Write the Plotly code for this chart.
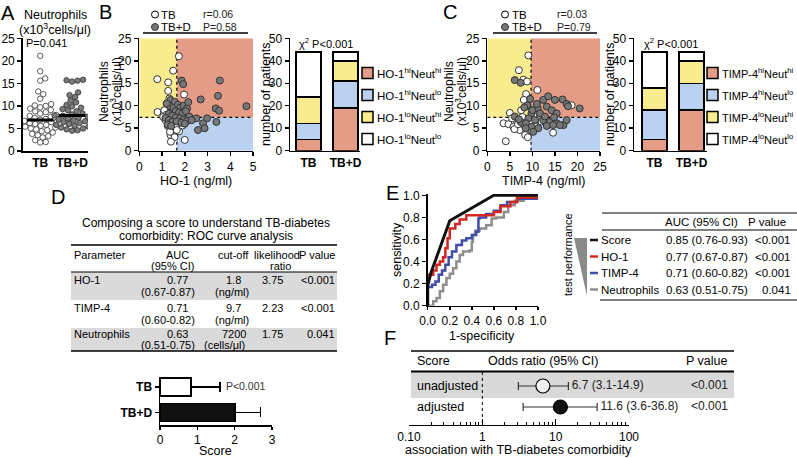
import numpy as np
import plotly.graph_objects as go

W, H = 797, 458
FONT = "Liberation Sans, Arial, Helvetica, sans-serif"

# ------------------------------------------------------------------ data
GROUPS = ["TB", "TB+D"]

# Panel A: neutrophils (x10^3 cells/ul)
A_NEUT_TB = [21.1, 17.7, 16.1, 15.6, 13.2, 12.6, 11.6, 10.4, 10.1, 10.0, 9.7, 9.4, 9.1, 8.8,
             8.6, 8.3, 8.0, 7.8, 7.6, 7.3, 7.1, 6.9, 6.7, 6.5, 6.4, 6.2, 6.0, 5.8, 5.6, 5.4,
             5.2, 5.0, 4.8, 4.6, 4.4, 4.1, 3.8, 3.5, 3.3, 3.0, 2.4, 2.0, 1.9]
A_NEUT_TBD = [15.8, 15.7, 15.6, 15.4, 13.0, 12.4, 12.0, 11.2, 10.8, 10.2, 9.9, 9.6, 9.3, 9.0,
              8.8, 8.5, 8.3, 8.1, 7.9, 7.8, 7.6, 7.4, 7.2, 7.0, 6.8, 6.6, 6.4, 6.2, 6.0, 5.8,
              5.6, 5.4, 5.2, 5.0, 4.8, 4.6, 4.5]
A_PVAL = "P=0.041"

# Panel B: HO-1 (ng/ml) vs neutrophils
B_TB_HO1 = [1.74, 1.49, 0.79, 1.27, 1.27, 1.97, 1.32, 0.80, 1.35, 1.10, 1.20, 1.45, 1.30, 1.55,
            1.70, 1.25, 1.40, 1.60, 1.50, 1.75, 1.37, 1.55, 1.39, 2.00, 1.80, 1.15, 1.50, 1.62,
            1.05, 1.90, 1.45, 1.25, 1.65, 1.35, 1.85]
B_TB_NEUT = [21.0, 17.8, 15.9, 15.2, 13.3, 12.5, 11.6, 8.6, 10.5, 9.0, 8.0, 7.0, 6.5, 6.0,
             6.2, 5.5, 5.0, 5.3, 4.5, 4.3, 3.5, 3.0, 2.0, 2.4, 7.2, 6.8, 8.5, 9.5,
             7.5, 5.6, 9.2, 7.2, 4.6, 4.2, 8.8]
B_TBD_HO1 = [1.86, 1.93, 3.54, 3.46, 2.70, 1.37, 1.56, 4.71, 3.36, 3.51, 1.35, 1.50, 1.70, 1.80,
             1.95, 2.10, 1.60, 1.75, 1.90, 2.05, 2.20, 1.30, 1.45, 1.60, 1.80, 1.95, 2.10, 1.15,
             1.30, 1.45, 1.65, 1.85, 2.00, 1.25, 1.40, 2.98, 2.51, 2.80, 2.87, 2.58, 3.39, 2.30,
             1.20, 2.15]
B_TBD_NEUT = [15.6, 14.8, 15.6, 12.2, 11.4, 11.3, 10.9, 9.9, 9.4, 8.9, 9.9, 9.5, 10.2, 9.6,
              10.0, 9.4, 8.8, 8.5, 8.3, 8.8, 7.6, 8.2, 7.8, 7.4, 7.2, 6.9, 6.6, 7.3,
              6.8, 6.4, 6.5, 6.2, 6.0, 5.8, 5.5, 7.2, 7.2, 6.1, 5.0, 4.6, 6.4, 6.8,
              10.5, 10.8]
B_STATS = ["r=0.06", "P=0.58"]
HO1_CUT = 1.65
NEUT_CUT = 7.4

# Panel C: TIMP-4 (ng/ml) vs neutrophils
C_TB_TIMP = [9.1, 7.0, 8.0, 8.8, 11.1, 8.6, 8.1, 8.9, 5.0, 3.6, 4.7, 5.8, 4.1, 8.4, 7.2, 14.6,
             18.7, 6.5, 7.8, 9.5, 10.5, 6.0, 8.2, 9.0, 5.5, 7.5, 10.2, 12.0, 6.8, 9.8]
C_TB_NEUT = [21.2, 17.9, 15.8, 15.4, 13.5, 12.6, 11.3, 9.9, 8.4, 6.1, 5.9, 5.3, 2.1, 3.5, 4.6, 4.0,
             10.1, 6.8, 7.5, 6.3, 5.5, 4.8, 5.8, 3.0, 7.2, 9.0, 7.8, 6.5, 5.9, 4.5]
C_TBD_TIMP = [6.1, 7.4, 8.9, 8.2, 12.4, 13.5, 15.0, 16.7, 17.6, 11.2, 11.7, 13.2, 14.3, 15.4,
              9.8, 9.1, 10.6, 12.4, 13.9, 15.4, 16.9, 6.1, 7.4, 8.6, 9.8, 11.3, 13.2, 14.6,
              8.5, 10.2, 17.9, 20.5, 17.6, 16.1, 11.0, 12.8, 14.8, 10.0, 7.0, 9.5]
C_TBD_NEUT = [15.7, 15.1, 10.1, 9.6, 11.3, 12.1, 11.3, 11.4, 10.4, 9.4, 8.3, 9.8, 9.0, 8.3,
              8.3, 7.2, 6.8, 6.8, 6.4, 6.1, 5.7, 7.6, 6.4, 6.1, 5.3, 5.0, 5.5, 5.7,
              5.0, 4.2, 9.9, 9.4, 6.8, 5.7, 10.4, 7.6, 7.4, 9.0, 7.0, 11.5]
C_STATS = ["r=0.03", "P=0.79"]
TIMP_CUT = 9.7

# Stacked bars: number of patients per quadrant
QUAD_HO1 = ["HO-1<sup>hi</sup>Neut<sup>hi</sup>", "HO-1<sup>hi</sup>Neut<sup>lo</sup>",
            "HO-1<sup>lo</sup>Neut<sup>hi</sup>", "HO-1<sup>lo</sup>Neut<sup>lo</sup>"]
QUAD_TIMP = ["TIMP-4<sup>hi</sup>Neut<sup>hi</sup>", "TIMP-4<sup>hi</sup>Neut<sup>lo</sup>",
             "TIMP-4<sup>lo</sup>Neut<sup>hi</sup>", "TIMP-4<sup>lo</sup>Neut<sup>lo</sup>"]
HO1_COUNTS_TB = [5, 7, 12, 20]
HO1_COUNTS_TBD = [19, 12, 9, 4]
TIMP_COUNTS_TB = [5, 13, 10, 16]
TIMP_COUNTS_TBD = [18, 12, 10, 4]
CHI2_TEXT = "χ<sup>2</sup> P&lt;0.001"

# Panel D: ROC table + score
D_TITLE = ["Composing a score to understand TB-diabetes", "comorbidity: ROC curve analysis"]
D_PARAMS = ["HO-1", "TIMP-4", "Neutrophils"]
D_AUC = [0.77, 0.71, 0.63]
D_AUC_LO = [0.67, 0.60, 0.51]
D_AUC_HI = [0.87, 0.82, 0.75]
D_CUTOFF = ["1.8", "9.7", "7200"]
D_CUTOFF_UNIT = ["(ng/ml)", "(ng/ml)", "(cells/μl)"]
D_LR = [3.75, 2.23, 1.75]
D_P = ["<0.001", "<0.001", "0.041"]
SCORE_MEAN = [0.83, 2.01]
SCORE_ERR = [0.78, 0.68]
SCORE_P = "P<0.001"

# Panel E: ROC curves
ROC_SCORE_FPR = [0, 0, 0.03, 0.20, 0.60, 1.0]
ROC_SCORE_TPR = [0, 0.18, 0.30, 0.77, 1.0, 1.0]
ROC_HO1_FPR = [0, 0, 0.05, 0.08, 0.11, 0.14, 0.16, 0.18, 0.20, 0.25, 0.29, 0.35, 0.46, 0.56,
               0.60, 0.66, 0.75, 0.81, 1.0]
ROC_HO1_TPR = [0, 0.28, 0.32, 0.37, 0.40, 0.44, 0.52, 0.61, 0.70, 0.74, 0.78, 0.82, 0.82, 0.82,
               0.85, 0.90, 0.94, 0.98, 0.98]
ROC_TIMP_FPR = [0, 0, 0.04, 0.07, 0.10, 0.13, 0.16, 0.19, 0.22, 0.26, 0.31, 0.35, 0.40, 0.44,
                0.46, 0.47, 0.53, 0.60, 0.66, 0.72, 0.81, 1.0]
ROC_TIMP_TPR = [0, 0.17, 0.19, 0.22, 0.28, 0.32, 0.37, 0.44, 0.49, 0.55, 0.59, 0.61, 0.64, 0.67,
                0.79, 0.80, 0.83, 0.86, 0.91, 0.94, 0.97, 0.97]
ROC_NEUT_FPR = [0, 0.02, 0.05, 0.08, 0.11, 0.14, 0.17, 0.20, 0.23, 0.26, 0.29, 0.32, 0.38, 0.40,
                0.41, 0.43, 0.47, 0.53, 0.58, 0.62, 0.69, 0.73, 0.79, 0.87, 1.0]
ROC_NEUT_TPR = [0, 0, 0.04, 0.07, 0.13, 0.19, 0.25, 0.29, 0.34, 0.40, 0.46, 0.49, 0.50, 0.58,
                0.64, 0.68, 0.70, 0.73, 0.79, 0.80, 0.85, 0.91, 0.95, 0.97, 0.97]
E_NAMES = ["Score", "HO-1", "TIMP-4", "Neutrophils"]
E_AUC = [0.85, 0.77, 0.71, 0.63]
E_LO = [0.76, 0.67, 0.60, 0.51]
E_HI = [0.93, 0.87, 0.82, 0.75]
E_P = ["<0.001", "<0.001", "<0.001", "0.041"]
E_COLORS = ["#111111", "#D3271F", "#3F4DA6", "#8E8E8E"]

# Panel F: odds ratios
F_NAMES = ["unadjusted", "adjusted"]
F_OR = [6.7, 11.6]
F_LO = [3.1, 3.6]
F_HI = [14.9, 36.8]
F_P = ["<0.001", "<0.001"]

QUAD_COLORS = ["#E49C86", "#BAD1EF", "#F9EC8E", "#FFFFFF"]


# ------------------------------------------------------------------ helpers
def esc(s):
    return s.replace("<", "&lt;")


def X(px):
    return px / W


def Y(py):
    return 1 - py / H


annotations = []
shapes = []


def text(s, x, y, size=12, xa="center", ya="middle", angle=0, color="black"):
    annotations.append(dict(text=s, x=X(x), y=Y(y), xref="paper", yref="paper",
                            showarrow=False, xanchor=xa, yanchor=ya, textangle=angle, borderpad=0,
                            font=dict(family=FONT, size=size, color=color)))


def hline(y, x0, x1, w=1.0, color="black", dash=None):
    shapes.append(dict(type="line", xref="paper", yref="paper", x0=X(x0), x1=X(x1),
                       y0=Y(y), y1=Y(y), line=dict(color=color, width=w, dash=dash)))


def rect(x0, y0, x1, y1, fill, lc=None, lw=0):
    shapes.append(dict(type="rect", xref="paper", yref="paper", x0=X(x0), x1=X(x1),
                       y0=Y(y1), y1=Y(y0), fillcolor=fill,
                       line=dict(color=lc or fill, width=lw), layer="below" if lw == 0 else "above"))


def circ(cx, cy, r, fill, lc="black", lw=1):
    shapes.append(dict(type="circle", xref="paper", yref="paper", x0=X(cx - r), x1=X(cx + r),
                       y0=Y(cy + r), y1=Y(cy - r), fillcolor=fill, line=dict(color=lc, width=lw)))


def swarm_offsets(vals, ppu_y, ppu_x, diam):
    vals = np.asarray(vals, float)
    order = np.argsort(vals)
    placed = []
    off = np.zeros(len(vals))
    cands = [0.0]
    for k in range(1, 80):
        cands += [k * 0.5, -k * 0.5]
    for i in order:
        yy = vals[i] * ppu_y
        chosen = 0.0
        for c in cands:
            if all((c - a) ** 2 + (yy - b) ** 2 >= diam ** 2 for a, b in placed):
                chosen = c
                break
        placed.append((chosen, yy))
        off[i] = chosen / ppu_x
    return off


AX = dict(showline=True, linecolor="black", linewidth=1.5, ticks="outside", ticklen=4,
          tickwidth=1.5, tickcolor="black", showgrid=False, zeroline=False, fixedrange=True,
          automargin=False, tickfont=dict(family=FONT, size=12, color="black"))

fig = go.Figure()
BOLD = ["<b>%s</b>" % g for g in GROUPS]

# ------------------------------------------------------------------ Panel A
a_ppu_y = (151 - 38.3) / 25
a_ppu_x = (88 - 22.7) / 2.05
for gi, (vals, fill) in enumerate([(A_NEUT_TB, "white"), (A_NEUT_TBD, "#7B7B7B")]):
    off = swarm_offsets(vals, a_ppu_y, a_ppu_x, 5.4)
    fig.add_trace(go.Scatter(x=gi + off, y=vals, mode="markers", xaxis="x", yaxis="y",
                             marker=dict(size=5.5, color=fill, line=dict(color="#333", width=0.8)),
                             showlegend=False, hoverinfo="skip"))
    med = float(np.median(vals))
    fig.add_trace(go.Scatter(x=[gi - 0.42, gi + 0.42], y=[med, med], mode="lines", xaxis="x",
                             yaxis="y", line=dict(color="black", width=3), showlegend=False))

# ------------------------------------------------------------------ Panels B & C scatter
for xa, ya, tbx, tby, tdx, tdy in [("x2", "y2", B_TB_HO1, B_TB_NEUT, B_TBD_HO1, B_TBD_NEUT),
                                   ("x4", "y4", C_TB_TIMP, C_TB_NEUT, C_TBD_TIMP, C_TBD_NEUT)]:
    fig.add_trace(go.Scatter(x=tbx, y=tby, mode="markers", xaxis=xa, yaxis=ya, showlegend=False,
                             marker=dict(size=7, color="white", line=dict(color="#333", width=1))))
    fig.add_trace(go.Scatter(x=tdx, y=tdy, mode="markers", xaxis=xa, yaxis=ya, showlegend=False,
                             marker=dict(size=7, color="#777777", line=dict(color="#333", width=1))))

for xa, ya, cut, xmax in [("x2", "y2", HO1_CUT, 5), ("x4", "y4", TIMP_CUT, 25)]:
    for (x0, x1, y0, y1, col) in [(0, cut, NEUT_CUT, 25, QUAD_COLORS[2]),
                                  (cut, xmax, NEUT_CUT, 25, QUAD_COLORS[0]),
                                  (cut, xmax, 0, NEUT_CUT, QUAD_COLORS[1])]:
        shapes.append(dict(type="rect", xref=xa, yref=ya, x0=x0, x1=x1, y0=y0, y1=y1,
                           fillcolor=col, line=dict(width=0), layer="below"))
    shapes.append(dict(type="line", xref=xa, yref=ya, x0=cut, x1=cut, y0=0, y1=25,
                       line=dict(color="black", width=1.2, dash="dot"), layer="below"))
    shapes.append(dict(type="line", xref=xa, yref=ya, x0=0, x1=xmax, y0=NEUT_CUT, y1=NEUT_CUT,
                       line=dict(color="black", width=1.2, dash="dot"), layer="below"))

# ------------------------------------------------------------------ stacked bars
for xa, ya, tb, tbd in [("x3", "y3", HO1_COUNTS_TB, HO1_COUNTS_TBD),
                        ("x5", "y5", TIMP_COUNTS_TB, TIMP_COUNTS_TBD)]:
    for k in range(4):
        fig.add_trace(go.Bar(x=[0, 1], y=[tb[k], tbd[k]], xaxis=xa, yaxis=ya, width=0.68,
                             marker=dict(color=QUAD_COLORS[k], line=dict(color="black", width=1.5)),
                             showlegend=False))

# ------------------------------------------------------------------ Panel D score bars
fig.add_trace(go.Bar(x=SCORE_MEAN, y=[1, 0], orientation="h", xaxis="x6", yaxis="y6", width=0.72,
                     marker=dict(color=["white", "#111111"], line=dict(color="black", width=1.5)),
                     error_x=dict(type="data", array=SCORE_ERR, arrayminus=[0, 0], symmetric=False,
                                  color="black", thickness=1.5, width=5),
                     showlegend=False))
fig.add_trace(go.Scatter(x=[SCORE_MEAN[0] + SCORE_ERR[0]], y=[1], mode="text", xaxis="x6", yaxis="y6",
                         text=["  " + esc(SCORE_P)], textposition="middle right", cliponaxis=False,
                         textfont=dict(family=FONT, size=10.5, color="#333"), showlegend=False))

# ------------------------------------------------------------------ Panel E ROC
for fx, ty, col, wd, shp in [(ROC_NEUT_FPR, ROC_NEUT_TPR, E_COLORS[3], 2.5, "hv"),
                             (ROC_TIMP_FPR, ROC_TIMP_TPR, E_COLORS[2], 2.5, "hv"),
                             (ROC_HO1_FPR, ROC_HO1_TPR, E_COLORS[1], 2.5, "hv"),
                             (ROC_SCORE_FPR, ROC_SCORE_TPR, E_COLORS[0], 3, "linear")]:
    fig.add_trace(go.Scatter(x=fx, y=ty, mode="lines", xaxis="x7", yaxis="y7",
                             line=dict(color=col, width=wd, shape=shp), showlegend=False))

# ------------------------------------------------------------------ Panel F forest
F_Y = [1, 0]
fig.add_trace(go.Scatter(x=[1, 1], y=[-0.76, 1.667], mode="lines", xaxis="x8", yaxis="y8",
                         line=dict(color="black", width=1, dash="dot"), showlegend=False))
fig.add_trace(go.Scatter(x=F_OR, y=F_Y, mode="markers", xaxis="x8", yaxis="y8", showlegend=False,
                         marker=dict(size=14, color=["#EFEFEF", "#111111"], line=dict(color="black", width=1.2)),
                         error_x=dict(type="data", symmetric=False,
                                      array=[h - o for h, o in zip(F_HI, F_OR)],
                                      arrayminus=[o - l for o, l in zip(F_OR, F_LO)],
                                      color="#333", thickness=1.2, width=4)))
fig.add_trace(go.Scatter(x=F_HI, y=F_Y, mode="text", xaxis="x8", yaxis="y8", showlegend=False,
                         text=[" %g (%g-%g)" % (o, l, h) for o, l, h in zip(F_OR, F_LO, F_HI)],
                         textposition="middle right", cliponaxis=False,
                         textfont=dict(family=FONT, size=12, color="#222")))

# ------------------------------------------------------------------ axes
def dom_x(a, b):
    return [X(a), X(b)]


def dom_y(bottom, top):
    return [Y(bottom), Y(top)]


layout = dict(
    xaxis=dict(AX, domain=dom_x(22.7, 88), anchor="y", range=[-0.55, 1.5], tickvals=[0, 1],
               ticktext=BOLD, ticks=""),
    yaxis=dict(AX, domain=dom_y(151, 38.3), anchor="x", range=[0, 25], dtick=5),
    xaxis2=dict(AX, domain=dom_x(139.3, 253), anchor="y2", range=[0, 5], dtick=1),
    yaxis2=dict(AX, domain=dom_y(150.7, 38.3), anchor="x2", range=[0, 25], dtick=5),
    xaxis3=dict(AX, domain=dom_x(290, 360), anchor="y3", range=[-0.5, 1.39], tickvals=[0, 1],
                ticktext=BOLD, ticks=""),
    yaxis3=dict(AX, domain=dom_y(150.7, 38.3), anchor="x3", range=[0, 50], dtick=10),
    xaxis4=dict(AX, domain=dom_x(487.3, 600), anchor="y4", range=[0, 25], dtick=5),
    yaxis4=dict(AX, domain=dom_y(150.7, 38.3), anchor="x4", range=[0, 25], dtick=5),
    xaxis5=dict(AX, domain=dom_x(634, 707), anchor="y5", range=[-0.554, 1.42], tickvals=[0, 1],
                ticktext=BOLD, ticks=""),
    yaxis5=dict(AX, domain=dom_y(150.7, 38.3), anchor="x5", range=[0, 50], dtick=10),
    xaxis6=dict(AX, domain=dom_x(160, 272), anchor="y6", range=[0, 3], dtick=1, ticklen=3),
    yaxis6=dict(AX, domain=dom_y(425, 377), anchor="x6", range=[-0.49, 1.39], tickvals=[1, 0],
                ticktext=BOLD),
    xaxis7=dict(AX, domain=dom_x(427.7, 538), anchor="y7", range=[0, 1], dtick=0.2, tickformat=".1f",
                ticklen=3),
    yaxis7=dict(AX, domain=dom_y(305.7, 194), anchor="x7", range=[0, 1.012], tickvals=[0, 0.2, 0.4, 0.6, 0.8, 1.0],
                tickformat=".1f"),
    xaxis8=dict(AX, domain=dom_x(409, 629), anchor="y8", type="log", range=[-1, 2],
                tickvals=[0.1, 1, 10, 100], ticktext=["0.10", "1", "10", "100"], ticks="inside",
                ticklen=6, tickwidth=1.2, linewidth=1.2,
                minor=dict(ticks="inside", ticklen=3, tickwidth=1, tickcolor="black",
                           tickvals=[m * d for d in (0.1, 1, 10) for m in range(2, 10)])),
    yaxis8=dict(domain=dom_y(425, 350), anchor="x8", range=[-0.857, 2.714], visible=False,
                fixedrange=True, automargin=False),
)

# ------------------------------------------------------------------ texts Row 1
for L, x, y in [("A", 8, 13), ("B", 106, 12), ("C", 450, 12), ("D", 58, 197), ("E", 392, 193), ("F", 390, 338)]:
    text(L, x, y, size=20)

text("Neutrophils", 55, 14.5, size=12.5)
text("(x10<sup>3</sup>cells/μl)", 55, 29, size=12.5)
text(A_PVAL, 25, 43, size=11, xa="left")

for (x1, x2, yc) in [(104, 116, 92), (449, 461, 92)]:
    text("Neutrophils", x1, yc, size=12, angle=-90)
    text("(x10<sup>3</sup>cells/μl)", x2, yc, size=12, angle=-90)
text("HO-1 (ng/ml)", 196, 181, size=12.5)
text("TIMP-4 (ng/ml)", 543, 181, size=12.5)
text("number of patients", 266, 94, size=12.5, angle=-90)
text("number of patients", 610, 94, size=12.5, angle=-90)
text(CHI2_TEXT, 326, 43, size=11)
text(CHI2_TEXT, 671, 43, size=11)

# scatter legends
for (cx, tx, rx, lx0, lx1, stats) in [(155, 160, 202, 143, 248, B_STATS), (505, 511, 556, 493, 597, C_STATS)]:
    circ(cx, 14.5, 3.5, "white")
    circ(cx, 27, 3.5, "#777777", lc="#333")
    text(GROUPS[0], tx, 14.5, size=11.5, xa="left")
    text(GROUPS[1], tx, 27, size=11.5, xa="left")
    text(stats[0], rx, 14, size=10.5, xa="left", color="#222")
    text(stats[1], rx, 27, size=10.5, xa="left", color="#222")
    hline(33, lx0, lx1, w=1.5)

# bar legends
LEG_Y = [73, 95, 117, 139]
for (sx, tx, names, fs) in [(362, 376, QUAD_HO1, 11.5), (707, 721, QUAD_TIMP, 11)]:
    for k in range(4):
        shapes.append(dict(type="rect", xref="paper", yref="paper", x0=X(sx), x1=X(sx + 11),
                           y0=Y(LEG_Y[k] + 5.5), y1=Y(LEG_Y[k] - 5.5), fillcolor=QUAD_COLORS[k],
                           line=dict(color="black", width=1.5)))
        text(names[k], tx, LEG_Y[k], size=fs, xa="left")

# ------------------------------------------------------------------ Panel D table
TS = 11
text(D_TITLE[0], 206, 222.5, size=12)
text(D_TITLE[1], 206, 235.5, size=12)
hline(245, 71, 337, w=1.5)
text("Parameter", 73, 254.5, size=TS, xa="left")
text("AUC", 177, 254.5, size=TS)
text("(95% CI)", 172, 266, size=TS)
text("cut-off", 234, 254.5, size=TS)
text("likelihood", 277, 254.5, size=TS)
text("ratio", 280, 266, size=TS)
text("P value", 337, 254.5, size=TS, xa="right")
hline(272, 71, 337, w=1)
rect(71, 272, 337, 300, "#DADADA")
rect(71, 328, 337, 351, "#DADADA")
D_ROW_Y1 = [279.5, 307.5, 333.5]
D_ROW_Y2 = [291.5, 319.5, 345]
for i in range(3):
    y1, y2 = D_ROW_Y1[i], D_ROW_Y2[i]
    text(D_PARAMS[i], 73, y1, size=TS, xa="left")
    text("%.2f" % D_AUC[i], 177, y1, size=TS)
    text("(%.2f-%.2f)" % (D_AUC_LO[i], D_AUC_HI[i]), 168, y2, size=TS)
    text(D_CUTOFF[i], 234, y1, size=TS)
    text(D_CUTOFF_UNIT[i], 232 if i < 2 else 224, y2, size=TS)
    text("%.2f" % D_LR[i], 272, y1, size=TS)
    text(esc(D_P[i]), 336, y1, size=TS, xa="right")
hline(351, 71, 337, w=1.5)
text("Score", 215, 451, size=12.5)

# ------------------------------------------------------------------ Panel E texts
text("sensitivity", 397, 250, size=12.5, angle=-90)
text("1-specificity", 482, 336, size=12.5)
text("test performance", 568, 255, size=11, angle=-90)
shapes.append(dict(type="path", xref="paper", yref="paper",
                   path="M %f,%f L %f,%f L %f,%f Z" % (X(574), Y(238), X(587), Y(238), X(587), Y(296)),
                   fillcolor="#8A8A8A", line=dict(width=0)))
hline(213, 602, 797, w=1.2)
text("AUC (95% CI)", 701, 222, size=11.5)
text("P value", 767, 222, size=11.5)
hline(230, 602, 797, w=1.2)
E_ROW_Y = [240, 256.5, 273, 289.5]
for i in range(4):
    yy = E_ROW_Y[i]
    hline(yy, 590, 598, w=2.5, color=E_COLORS[i])
    text(E_NAMES[i], 600, yy, size=11.5, xa="left")
    text("%.2f (%.2f-%.2f)" % (E_AUC[i], E_LO[i], E_HI[i]), 665, yy, size=11.5, xa="left")
    text(esc(E_P[i]), 792, yy, size=11.5, xa="right")
hline(300, 600, 797, w=1.2)

# ------------------------------------------------------------------ Panel F texts
hline(351, 411, 734, w=1.5)
text("Score", 416, 361, size=12.5, xa="left")
text("Odds ratio (95% CI)", 487, 361, size=12.5, xa="left")
text("P value", 729, 361, size=12.5, xa="right")
hline(371.5, 411, 734, w=2)
rect(411, 372, 734, 398, "#D9D9D9")
F_ROW_Y = [386, 407]
for i in range(2):
    text(F_NAMES[i], 416, F_ROW_Y[i], size=12.5, xa="left")
    text(esc(F_P[i]), 729, F_ROW_Y[i] - 1, size=12, xa="right", color="#222")
text("association with TB-diabetes comorbidity", 518, 450, size=12.5)

fig.update_layout(**layout)
fig.update_layout(template="none", width=W, height=H, margin=dict(l=0, r=0, t=0, b=0, autoexpand=False),
                  barmode="stack", paper_bgcolor="white", plot_bgcolor="white", showlegend=False,
                  font=dict(family=FONT, size=12, color="black"),
                  annotations=annotations, shapes=shapes)

fig.write_html("out.html", config={"displayModeBar": False, "staticPlot": True},
               post_script="document.body.style.margin='0';document.body.style.padding='0';"
                           "document.documentElement.style.margin='0';")
